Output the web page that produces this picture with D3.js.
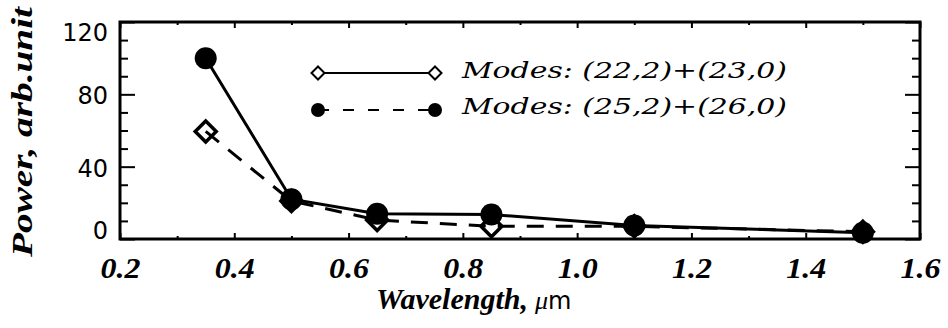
<!DOCTYPE html>
<html>
<head>
<meta charset="utf-8">
<script src="https://cdn.jsdelivr.net/npm/d3@7/dist/d3.min.js"></script>
<style>
  html, body { margin: 0; padding: 0; background: #fff; }
  svg { display: block; }
</style>
</head>
<body>
<svg id="chart" width="948" height="328"></svg>
<script>
// ---- data ----
const wavelengths = [0.35, 0.5, 0.65, 0.85, 1.1, 1.5];
const powerModesA = [59.5, 21, 10.5, 7, 7, 4];      // Modes: (22,2)+(23,0) — diamonds
const powerModesB = [100, 22, 14, 13.5, 7.5, 3.5];  // Modes: (25,2)+(26,0) — filled circles
const seriesLabels = ["Modes: (22,2)+(23,0)", "Modes: (25,2)+(26,0)"];
const xTickValues = [0.2, 0.4, 0.6, 0.8, 1.0, 1.2, 1.4, 1.6];
const xTickLabels = ["0.2", "0.4", "0.6", "0.8", "1.0", "1.2", "1.4", "1.6"];
const yTickValues = [0, 40, 80, 120];
const yTickLabels = ["0", "40", "80", "120"];
const yMinorValues = [10, 20, 30, 50, 60, 70, 90, 100, 110];
const xMinorValues = [0.3, 0.5, 0.7, 0.9, 1.1, 1.3, 1.5];

// ---- layout ----
const L = 120, R = 920, T = 22, B = 239;
const svg = d3.select("#chart");
const x = d3.scaleLinear().domain([0.2, 1.6]).range([L, R]);
const y = d3.scaleLinear().domain([0, 120]).range([B, T]);

const serifBI = "'Liberation Serif', 'DejaVu Serif', serif";
const serifWide = "'DejaVu Serif', 'Liberation Serif', serif";

function styleAxis(g) {
  g.select(".domain").remove();
  g.selectAll(".tick line").attr("stroke", "#000").attr("stroke-width", 2);
}
// left
svg.append("g").attr("transform", `translate(${L},0)`)
  .call(d3.axisLeft(y).tickValues(yTickValues).tickSize(-15).tickPadding(12)
        .tickFormat((d, i) => yTickLabels[i]))
  .call(styleAxis)
  .call(g => g.selectAll("text")
     .attr("font-family", "'DejaVu Sans', sans-serif")
     .attr("font-size", 24).attr("fill", "#000")
     .attr("dy", d => d === 0 ? "-0.02em" : (d === 120 ? "0.76em" : "0.40em")));
svg.append("g").attr("transform", `translate(${L},0)`)
  .call(d3.axisLeft(y).tickValues(yMinorValues).tickSize(-8).tickFormat(""))
  .call(styleAxis);
// right
svg.append("g").attr("transform", `translate(${R},0)`)
  .call(d3.axisRight(y).tickValues(yTickValues).tickSize(-15).tickFormat(""))
  .call(styleAxis);
svg.append("g").attr("transform", `translate(${R},0)`)
  .call(d3.axisRight(y).tickValues(yMinorValues).tickSize(-8).tickFormat(""))
  .call(styleAxis);
// bottom
svg.append("g").attr("transform", `translate(0,${B})`)
  .call(d3.axisBottom(x).tickValues(xTickValues).tickSize(-6).tickPadding(18)
        .tickFormat((d, i) => xTickLabels[i]))
  .call(styleAxis)
  .call(g => g.selectAll("text")
     .attr("font-family", serifBI).attr("font-style", "italic").attr("font-weight", "bold")
     .attr("font-size", 29).attr("fill", "#000")
     .attr("textLength", 40).attr("lengthAdjust", "spacingAndGlyphs"));
svg.append("g").attr("transform", `translate(0,${B})`)
  .call(d3.axisBottom(x).tickValues(xMinorValues).tickSize(-3).tickFormat(""))
  .call(styleAxis);
// top
svg.append("g").attr("transform", `translate(0,${T})`)
  .call(d3.axisTop(x).tickValues(xTickValues).tickSize(-6).tickFormat(""))
  .call(styleAxis);
svg.append("g").attr("transform", `translate(0,${T})`)
  .call(d3.axisTop(x).tickValues(xMinorValues).tickSize(-3).tickFormat(""))
  .call(styleAxis);

// frame
svg.append("rect").attr("x", L).attr("y", T).attr("width", R - L).attr("height", B - T)
  .attr("fill", "none").attr("stroke", "#000").attr("stroke-width", 3);

// ---- data marks ----
const ptsA = wavelengths.map((w, i) => [x(w), y(powerModesA[i])]);
const ptsB = wavelengths.map((w, i) => [x(w), y(powerModesB[i])]);
const line = d3.line();

function diamondPath(cx, cy, h) {
  return `M${cx},${cy - h}L${cx + h},${cy}L${cx},${cy + h}L${cx - h},${cy}Z`;
}

svg.append("path").attr("d", line(ptsA)).attr("fill", "none")
  .attr("stroke", "#000").attr("stroke-width", 3).attr("stroke-dasharray", "17,12");
svg.append("g").selectAll("path").data(ptsA).join("path")
  .attr("d", p => diamondPath(p[0], p[1], 10.5))
  .attr("fill", "none").attr("stroke", "#000").attr("stroke-width", 3.5)
  .attr("stroke-linejoin", "miter");

svg.append("path").attr("d", line(ptsB)).attr("fill", "none")
  .attr("stroke", "#000").attr("stroke-width", 3);
svg.append("g").selectAll("circle").data(ptsB).join("circle")
  .attr("cx", p => p[0]).attr("cy", p => p[1]).attr("r", 11).attr("fill", "#000");

// ---- legend ----
const lx1 = 318, lx2 = 435, ly1 = 73, ly2 = 110;
const leg = svg.append("g");
leg.append("line").attr("x1", lx1).attr("x2", lx2).attr("y1", ly1).attr("y2", ly1)
  .attr("stroke", "#000").attr("stroke-width", 2);
[lx1, lx2].forEach(cx => {
  leg.append("path").attr("d", diamondPath(cx, ly1, 6.5))
    .attr("fill", "#fff").attr("stroke", "#000").attr("stroke-width", 2);
});
leg.append("line").attr("x1", lx1).attr("x2", lx2).attr("y1", ly2).attr("y2", ly2)
  .attr("stroke", "#000").attr("stroke-width", 2).attr("stroke-dasharray", "11,14");
[lx1, lx2].forEach(cx => {
  leg.append("circle").attr("cx", cx).attr("cy", ly2).attr("r", 7).attr("fill", "#000");
});
[[ly1 + 5, seriesLabels[0]], [ly2 + 4, seriesLabels[1]]].forEach(([by, t]) => {
  leg.append("text").attr("x", 462).attr("y", by)
    .attr("font-family", serifWide).attr("font-style", "italic")
    .attr("font-size", 23).attr("fill", "#000")
    .attr("textLength", 325).attr("lengthAdjust", "spacingAndGlyphs")
    .text(t);
});

// ---- axis titles ----
svg.append("text").attr("x", 376).attr("y", 309)
  .attr("font-family", serifBI).attr("font-style", "italic").attr("font-weight", "bold")
  .attr("font-size", 29).attr("fill", "#000")
  .attr("textLength", 152).attr("lengthAdjust", "spacingAndGlyphs")
  .text("Wavelength,");
const mu = svg.append("text").attr("x", 535).attr("y", 309)
  .attr("font-size", 26).attr("fill", "#000");
mu.append("tspan").attr("font-family", serifBI).attr("font-style", "italic").text("\u03bc");
mu.append("tspan").attr("font-family", "'DejaVu Sans', sans-serif").attr("font-size", 24).text("m");

svg.append("text").attr("transform", "translate(32,257) rotate(-90)")
  .attr("font-family", serifBI).attr("font-style", "italic").attr("font-weight", "bold")
  .attr("font-size", 29).attr("fill", "#000")
  .attr("textLength", 250).attr("lengthAdjust", "spacingAndGlyphs")
  .text("Power, arb.unit");
</script>
</body>
</html>
